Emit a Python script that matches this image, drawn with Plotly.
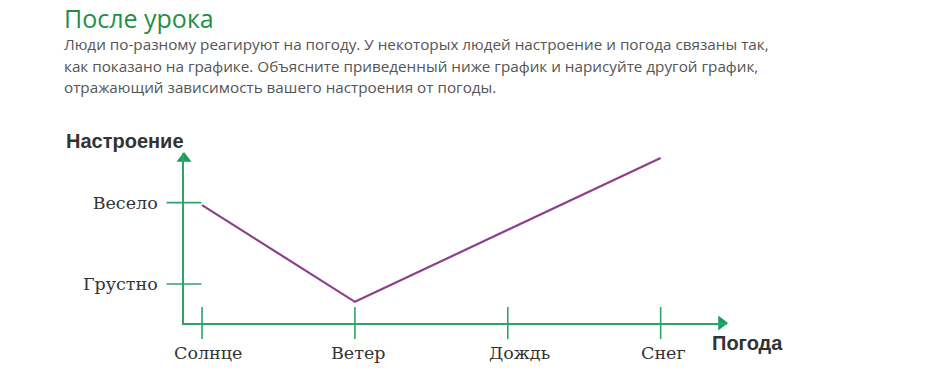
import plotly.graph_objects as go

# ---- data ----
weather = ["Солнце", "Ветер", "Дождь", "Снег"]
mood_levels = ["Грустно", "Весело"]
mood_values = [1.97, 0.78, None, 2.55]   # mood at each weather type (line goes straight Ветер -> Снег)

title_text = "После урока"
body_lines = [
    "Люди по-разному реагируют на погоду. У некоторых людей настроение и погода связаны так,",
    "как показано на графике. Объясните приведенный ниже график и нарисуйте другой график,",
    "отражающий зависимость вашего настроения от погоды.",
]
y_title = "Настроение"
x_title = "Погода"

# ---- layout geometry (pixels, page coords) ----
W, H = 934, 371
L, R = 184, 727   # plot area left/right px
T, B = 153, 323   # plot area top/bottom px
xpos = list(range(len(weather)))
xmin, xmax = -0.118, 3.434
ymin, ymax = 0.52, 2.61
PXX = (R - L) / (xmax - xmin)
PXY = (B - T) / (ymax - ymin)
label_xshift = [6, 3, 12, 3]   # horizontal offsets (px) of the category labels

GREEN = "#2ea36a"
GREEN_DARK = "#16a05a"
PURPLE = "#8d3f8d"


def px(x):  # page pixel -> paper x
    return (x - L) / (R - L)


def py(y):  # page pixel -> paper y
    return (B - y) / (B - T)


fig = go.Figure()

# mood line
fig.add_trace(go.Scatter(
    x=xpos, y=mood_values, mode="lines", connectgaps=True,
    line=dict(color=PURPLE, width=2.2), hoverinfo="skip", showlegend=False,
))

# x tick marks crossing the axis
fig.add_trace(go.Scatter(
    x=xpos, y=[ymin] * len(xpos), mode="markers", cliponaxis=False,
    marker=dict(symbol="line-ns", size=23, line=dict(color=GREEN, width=1.6)),
    hoverinfo="skip", showlegend=False,
))
# y tick marks crossing the axis
fig.add_trace(go.Scatter(
    x=[xmin, xmin], y=[1, 2], mode="markers", cliponaxis=False,
    marker=dict(symbol="line-ew", size=25, line=dict(color=GREEN, width=1.6)),
    hoverinfo="skip", showlegend=False,
))
# arrow heads
fig.add_trace(go.Scatter(
    x=[xmin], y=[ymax - 5.5 / PXY], mode="markers", cliponaxis=False,
    marker=dict(symbol="triangle-up", size=13, color=GREEN_DARK),
    hoverinfo="skip", showlegend=False,
))
fig.add_trace(go.Scatter(
    x=[xmax - 5.5 / PXX], y=[ymin], mode="markers", cliponaxis=False,
    marker=dict(symbol="triangle-right", size=13, color=GREEN_DARK),
    hoverinfo="skip", showlegend=False,
))

serif = "DejaVu Serif, serif"
sans_bold = "Liberation Sans, Arial, sans-serif"

annotations = [
    dict(text=title_text, x=px(62), y=py(18), xref="paper", yref="paper",
         xanchor="left", yanchor="middle", showarrow=False,
         font=dict(family="Open Sans", size=25, color="#1f8f47")),
]
for i, line in enumerate(body_lines):
    annotations.append(dict(
        text=line, x=px(62), y=py(44 + 21.5 * i), xref="paper", yref="paper",
        xanchor="left", yanchor="middle", showarrow=False,
        font=dict(family="Open Sans", size=15.25, color="#555555")))
annotations.append(dict(
    text="<b>" + y_title + "</b>", x=px(64), y=py(141), xref="paper", yref="paper",
    xanchor="left", yanchor="middle", showarrow=False,
    font=dict(family=sans_bold, size=20, color="#333333")))
annotations.append(dict(
    text="<b>" + x_title + "</b>", x=px(710), y=py(343), xref="paper", yref="paper",
    xanchor="left", yanchor="middle", showarrow=False,
    font=dict(family=sans_bold, size=20, color="#333333")))
# category labels under the x axis
for xi, lab, dx in zip(xpos, weather, label_xshift):
    annotations.append(dict(
        text=lab, x=xi, y=0, xref="x", yref="paper",
        xanchor="center", yanchor="middle", showarrow=False,
        xshift=dx, yshift=-30,
        font=dict(family=serif, size=17.5, color="#333333")))

fig.update_layout(
    width=W, height=H,
    margin=dict(l=L, r=W - R, t=T, b=H - B, pad=0, autoexpand=False),
    paper_bgcolor="white", plot_bgcolor="white",
    annotations=annotations,
    xaxis=dict(
        range=[xmin, xmax], tickvals=xpos, showticklabels=False,
        showgrid=False, zeroline=False, showline=True, linecolor=GREEN, linewidth=1.6,
        ticks="", automargin=False, fixedrange=True,
    ),
    yaxis=dict(
        range=[ymin, ymax], tickvals=[1, 2], ticktext=mood_levels,
        showgrid=False, zeroline=False, showline=True, linecolor=GREEN, linewidth=1.6,
        ticks="", ticklabelstandoff=21, automargin=False,
        tickfont=dict(family=serif, size=17.5, color="#333333"),
        fixedrange=True,
    ),
)

# remove the default page margin so the figure fills the window exactly
fig.write_html(
    "out.html",
    config=dict(displayModeBar=False),
    post_script="document.body.style.margin='0';document.body.style.overflow='hidden';",
)
